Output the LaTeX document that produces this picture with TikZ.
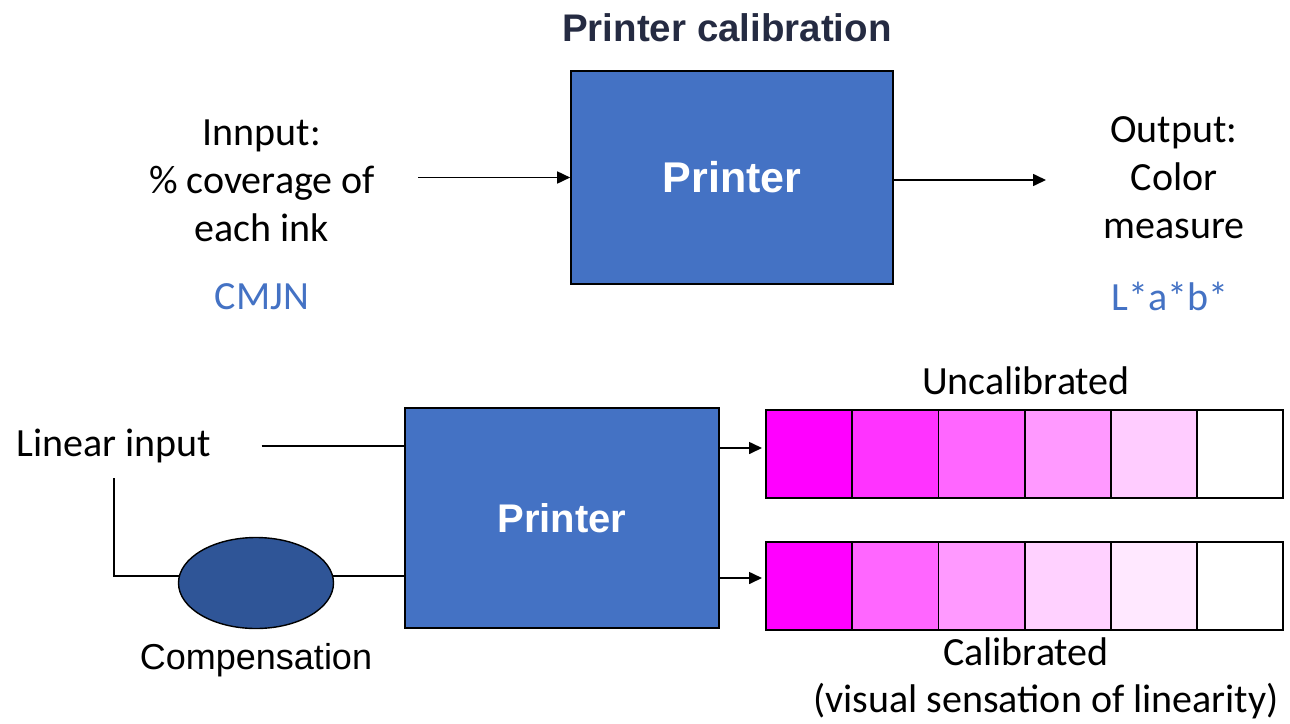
\documentclass[tikz,border=0pt]{standalone}
\usepackage{fontspec}
\setmainfont{Carlito}
\newfontfamily\arialfont{Liberation Sans}
\usetikzlibrary{positioning,shapes.geometric,arrows.meta}
\definecolor{prnblue}{HTML}{4472C4}
\definecolor{compblue}{HTML}{2F5597}
\definecolor{titlecol}{HTML}{252B42}
\definecolor{mag}{RGB}{255,0,255}

\begin{document}
\begin{tikzpicture}[x=1pt,y=-1pt,
  printer/.style={draw=black,line width=1.6pt,fill=prnblue,text=white,
    font=\arialfont\bfseries\fontsize{43}{50}\selectfont},
  txt/.style={font=\fontsize{40}{48}\selectfont,align=center,inner sep=0pt},
  code/.style={txt,text=prnblue},
  line/.style={line width=1.6pt},
  arr/.style={line,-{Triangle[length=13pt,width=12pt]}},
  cell/.style={draw=black,line width=1.8pt,minimum width=86.2pt,
    minimum height=88pt,inner sep=0pt,outer sep=0pt,anchor=north west}]

  \useasboundingbox (0,0) rectangle (1290,723);

  % top: printer calibration
  \node[font=\arialfont\bfseries\fontsize{38.5}{44}\selectfont,text=titlecol]
    (title) at (727,28) {Printer calibration};
  \node[printer,minimum width=322pt,minimum height=213pt] (prn1) at (732,177.5) {Printer};
  \node[txt] (in) at (262,181) {Innput:\\\% coverage of\\each ink};
  \node[code] (cmjn) at (262,297) {CMJN};
  \node[txt] (out) at (1174,178) {Output:\\Color\\measure};
  \node[code] (lab) at (1170,296) {L*a*b*};
  \coordinate (inbeg) at (418,177.5);
  \coordinate (outend) at (1046,180);
  \draw[arr] (inbeg) -- (inbeg -| prn1.west);
  \draw[arr] (outend -| prn1.east) -- (outend);

  % bottom: compensation
  \node[printer,font=\arialfont\bfseries\fontsize{40}{46}\selectfont,
    minimum width=314pt,minimum height=220pt] (prn2) at (562,518) {Printer};
  \node[txt] (lin) at (114,446) {Linear input};
  \node[ellipse,draw=black,line width=1.4pt,fill=compblue,
    minimum width=155pt,minimum height=91pt] (comp) at (256,583) {};
  \node[font=\arialfont\fontsize{36}{40}\selectfont,inner sep=0pt]
    (complbl) at (256,660) {Compensation};
  \draw[line] ([xshift=50pt]lin.east) -- (lin.east -| prn2.west);
  \draw[line] ([yshift=-15pt]lin.south) |- (comp.175);
  \draw[line] (comp.5) -- (comp.5 -| prn2.west);

  % swatches
  \foreach \p [count=\i] in {100,80,60,40,20,0}
    \node[cell,fill=mag!\p] (u\i) at ({766+(\i-1)*86.2},410) {};
  \foreach \p [count=\i] in {100,60,40,18,9,0}
    \node[cell,fill=mag!\p] (c\i) at ({766+(\i-1)*86.2},542) {};
  \coordinate (a1) at ([yshift=6pt]u1.west);
  \coordinate (a2) at ([yshift=8pt]c1.west);
  \draw[arr,shorten >=4pt] (a1 -| prn2.east) -- (a1);
  \draw[arr,shorten >=4pt] (a2 -| prn2.east) -- (a2);
  \node[txt] (uncal) at (1026,381) {Uncalibrated};
  \node[txt] (cal) at (1026,652) {Calibrated};
  \node[txt] (calnote) at (1046,701) {(visual sensation of linearity)};
\end{tikzpicture}
\end{document}
